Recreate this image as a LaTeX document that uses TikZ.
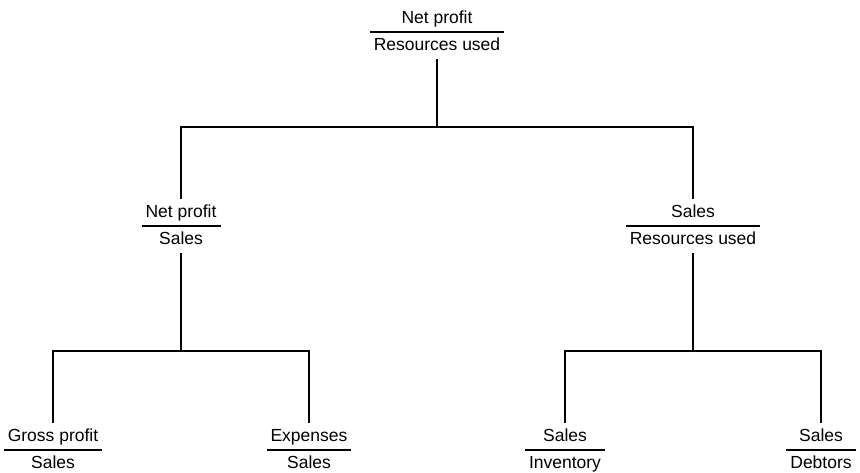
\documentclass[tikz,border=0pt]{standalone}
\usepackage{fontspec}
\setmainfont{Liberation Sans}
\usetikzlibrary{positioning}

% numerator over a rule over denominator
\newcommand{\ratiotext}[2]{%
	\setlength{\tabcolsep}{4pt}\setlength{\arrayrulewidth}{1.3pt}%
	\begin{tabular}{c}#1\\\hline #2\end{tabular}}

\begin{document}
\begin{tikzpicture}[x=1pt,y=1pt] %% ratio tree
	\tikzstyle{level 1}=[level distance=194pt, sibling distance=512pt];
	\tikzstyle{level 2}=[level distance=224pt, sibling distance=256pt];
	\tikzstyle{ratio}=[inner sep=0pt,font=\fontsize{17.5}{26}\selectfont]
	\tikzstyle{edge from parent}=[draw,line width=2.6pt]
	\useasboundingbox (0,0) rectangle (860,-473);
	\node[ratio] (roce) at (437,-32) {\ratiotext{Net profit}{Resources used}}
		[edge from parent path={(\tikzchildnode.north) -- ++(0,72) -| (\tikzparentnode.south)}]
		child {
			node[ratio] (margin) {\ratiotext{Net profit}{Sales}}
			child { node[ratio] (gross) {\ratiotext{Gross profit}{Sales}} }
			child { node[ratio] (expenses) {\ratiotext{Expenses}{Sales}} }
		}
		child {
			node[ratio] (turnover) {\ratiotext{Sales}{Resources used}}
			child { node[ratio] (inventory) {\ratiotext{Sales}{Inventory}} }
			child { node[ratio] (debtors) {\ratiotext{Sales}{Debtors}} }
		};
\end{tikzpicture}
\end{document}
